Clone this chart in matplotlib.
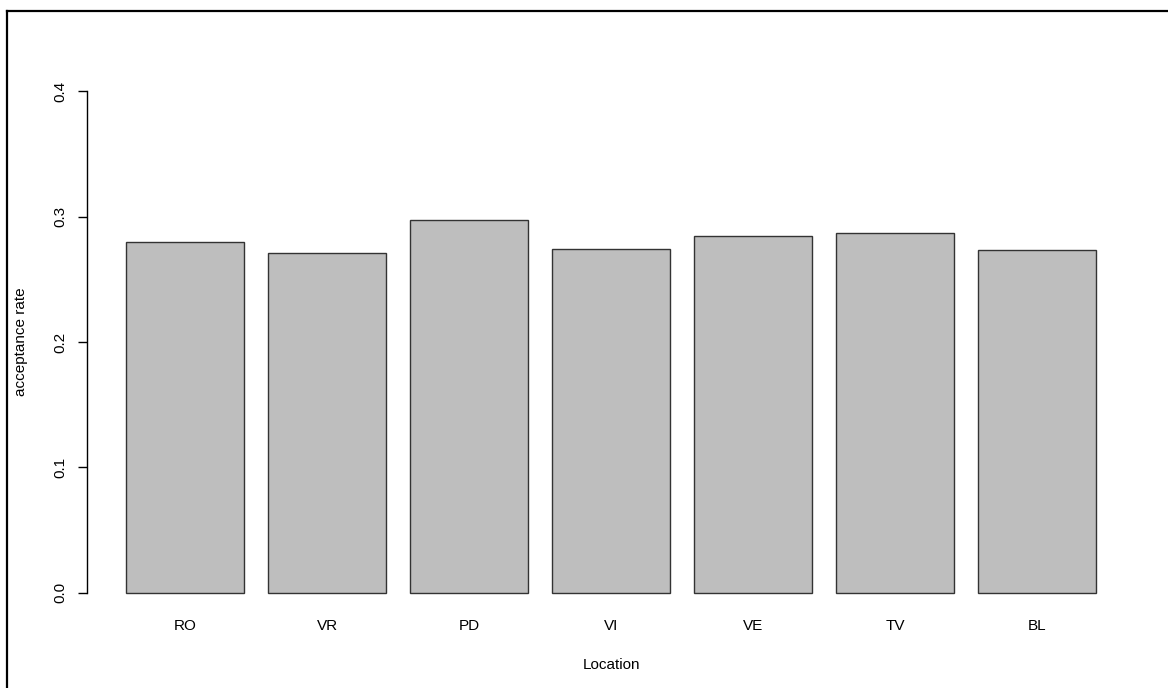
import matplotlib.pyplot as plt
from matplotlib.lines import Line2D

plt.rcParams["font.family"] = ["Liberation Sans", "DejaVu Sans"]
plt.rcParams["font.size"] = 11

locations = ["RO", "VR", "PD", "VI", "VE", "TV", "BL"]
acceptance = [0.280, 0.271, 0.297, 0.274, 0.2845, 0.2865, 0.273]

W, H = 1168, 688
fig = plt.figure(figsize=(W / 100, H / 100), dpi=100)

# plot region in pixels, barplot style: width 1, space 0.2
left, right, top, bottom = 87.2, 1135.0, 71.0, 613.0
ax = fig.add_axes([left / W, 1 - bottom / H, (right - left) / W, (bottom - top) / H])

xs = [0.7 + 1.2 * i for i in range(len(locations))]
ax.bar(xs, acceptance, width=1.0, color="#bebebe", edgecolor="#333333", linewidth=1.0)

ax.set_xlim(-0.128, 8.728)
ax.set_ylim(-0.016, 0.416)

for s in ["top", "right", "bottom"]:
    ax.spines[s].set_visible(False)
ax.spines["left"].set_bounds(0, 0.4)
ax.spines["left"].set_linewidth(1.0)

ax.set_yticks([0.0, 0.1, 0.2, 0.3, 0.4])
ax.set_yticklabels(["0.0", "0.1", "0.2", "0.3", "0.4"], rotation=90, va="center")
ax.tick_params(axis="y", length=6.5, width=1.0, pad=8)
ax.set_xticks(xs)
ax.set_xticklabels(locations)
ax.tick_params(axis="x", length=0, pad=4)

ax.set_xlabel("Location", labelpad=18)
ax.set_ylabel("acceptance rate", labelpad=18)

# outer frame (top and left edges)
fig.add_artist(Line2D([7 / W, 7 / W], [-0.1, 1 - 11 / H], color="black", linewidth=1.6, transform=fig.transFigure))
fig.add_artist(Line2D([7 / W, 1.1], [1 - 11 / H, 1 - 11 / H], color="black", linewidth=1.6, transform=fig.transFigure))

fig.savefig("out.png", dpi=100)
